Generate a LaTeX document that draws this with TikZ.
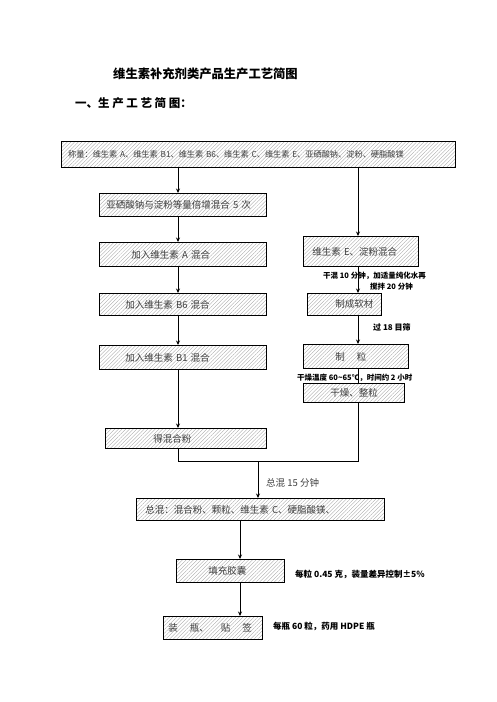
\documentclass[tikz,border=0pt]{standalone}
\usepackage{fontspec}
\newfontfamily\cjk{Noto Sans CJK SC}
\usetikzlibrary{patterns.meta,arrows.meta}
\tikzset{
  box/.style={draw=black, line width=0.8pt,
    pattern={Lines[angle=45,distance=2.6pt,line width=0.35pt]}, pattern color=gray!70,
    anchor=north west, inner ysep=0pt, align=left, text=black!75,
    font=\cjk\fontsize{9.5}{11}\selectfont},
  note/.style={anchor=west, inner sep=0pt, font=\cjk\bfseries\fontsize{7.5}{9}\selectfont},
  link/.style={line width=0.9pt},
  arr/.style={link, -{Stealth[length=4.5pt,width=4pt]}}
}
\begin{document}
\begin{tikzpicture}[x=1pt,y=-1pt]
\useasboundingbox (0,0) rectangle (496,702);
% titles
\node[anchor=west, inner sep=0pt, font=\cjk\bfseries\fontsize{12.3}{14}\selectfont] (title) at (113,74) {维生素补充剂类产品生产工艺简图};
\node[anchor=west, inner sep=0pt, font=\cjk\bfseries\fontsize{11.5}{13}\selectfont] (head) at (75,103) {一、生 产 工 艺 简 图：};
% columns
\coordinate (L) at (178,0);
\coordinate (R) at (358,0);
\coordinate (C) at (240,0);
% boxes
\node[box, minimum height=26pt, inner xsep=7pt, text width=380pt, font=\cjk\fontsize{8.2}{11}\selectfont] (weigh) at (61,141) {称量：维生素 A、维生素 B1、维生素 B6、维生素 C、维生素 E、亚硒酸钠、淀粉、硬脂酸镁};
\node[box, minimum height=23pt, inner xsep=7pt, text width=153pt] (mix5) at (99,193) {亚硒酸钠与淀粉等量倍增混合 5 次};
\node[box, minimum height=24pt, inner xsep=32pt, text width=103pt] (addA) at (99,242) {加入维生素 A 混合};
\node[box, minimum height=22pt, inner xsep=26pt, text width=115pt] (addB6) at (99,293) {加入维生素 B6 混合};
\node[box, minimum height=24pt, inner xsep=26pt, text width=115pt] (addB1) at (99,345) {加入维生素 B1 混合};
\node[box, minimum height=20pt, inner xsep=48pt, text width=65pt] (powder) at (105,428) {得混合粉};
\node[box, minimum height=30pt, inner xsep=9pt, text width=97pt] (mixE) at (303,236) {维生素 E、淀粉混合};
\node[box, minimum height=22pt, inner xsep=28pt, text width=18pt] (soft) at (307,293) {制成软材};
\node[box, minimum height=24pt, inner xsep=32pt, text width=41pt] (gran) at (303,344) {制\hspace{12pt}粒};
\node[box, minimum height=19pt, inner xsep=27pt, text width=47pt] (dry) at (303,383) {干燥、整粒};
\node[box, minimum height=22pt, inner xsep=9pt, text width=230pt] (total) at (136,498) {总混：混合粉、颗粒、维生素 C、硬脂酸镁、};
\node[box, minimum height=23pt, inner xsep=32pt, text width=44pt] (fill) at (176,559) {填充胶囊};
\node[box, minimum height=23pt, inner xsep=5pt, text width=89pt] (bottle) at (163,616) {装\hspace{12pt}瓶、\hspace{12pt}贴\hspace{12pt}签};
% notes
\node[note] (n1) at (323,276) {干混 10 分钟，加适量纯化水再};
\node[note] (n2) at (370,287) {搅拌 20 分钟};
\node[note, font=\cjk\bfseries\fontsize{8}{9}\selectfont] (n3) at (373,327) {过 18 目筛};
\node[note] (n4) at (297,378) {干燥温度 60\textasciitilde65℃，时间约 2 小时};
\node[anchor=west, inner sep=0pt, text=black!75, font=\cjk\fontsize{9.5}{11}\selectfont] (n5) at (266,483) {总混 15 分钟};
\node[note, font=\cjk\bfseries\fontsize{8.5}{10}\selectfont] (n6) at (295,574) {每粒 0.45 克，装量差异控制±5\%};
\node[note, font=\cjk\bfseries\fontsize{8.5}{10}\selectfont] (n7) at (273,626) {每瓶 60 粒，药用 HDPE 瓶};
% left column
\draw[arr] (weigh.south -| L) -- (mix5.north -| L);
\draw[arr] (mix5.south -| L) -- (addA.north -| L);
\draw[arr] (addA.south -| L) -- (addB6.north -| L);
\draw[arr] (addB6.south -| L) -- (addB1.north -| L);
\draw[arr] (addB1.south -| L) -- (powder.north -| L);
% right column
\draw[arr] (weigh.south -| R) -- (mixE.north -| R);
\draw[arr] (mixE.south -| R) -- (soft.north -| R);
\draw[arr] (soft.south -| R) -- (gran.north -| R);
\draw[link] (gran.south -| R) -- (dry.north -| R);
% merge
\coordinate (merge) at (258,461);
\draw[link] (powder.south -| L) -- (L |- merge) -- (R |- merge) -- (dry.south -| R);
\draw[arr] (merge) -- (total.north -| merge);
\draw[arr] (total.south -| C) -- (fill.north -| C);
\draw[arr] (fill.south -| C) -- (bottle.north -| C);
\end{tikzpicture}
\end{document}
